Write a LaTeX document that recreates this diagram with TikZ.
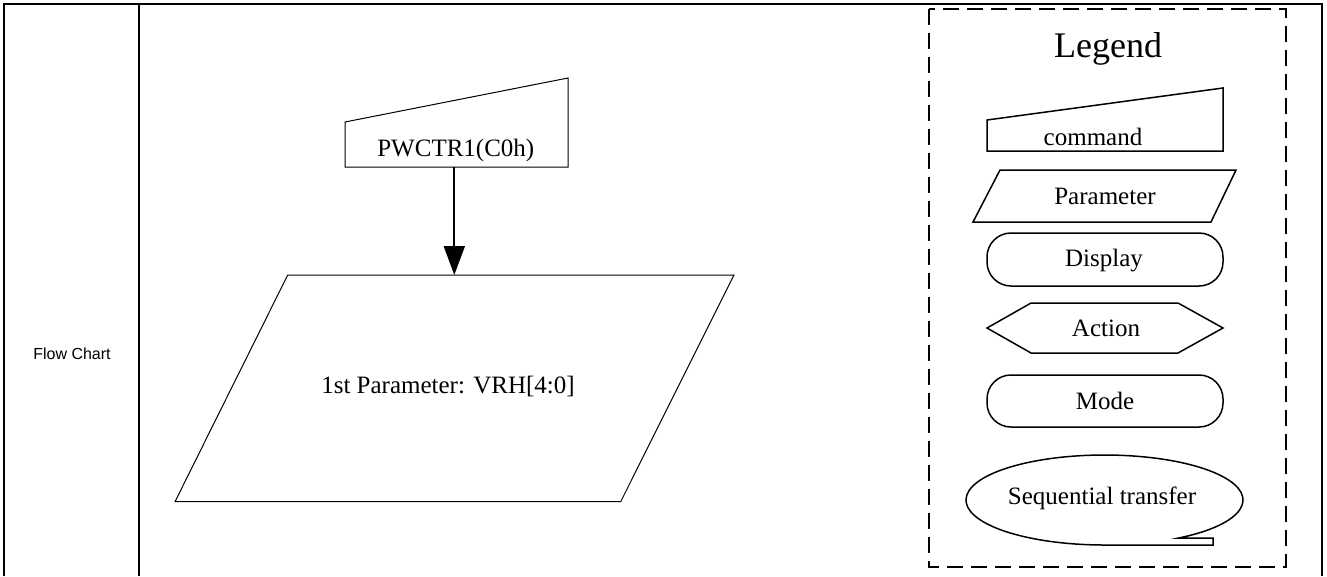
\documentclass[tikz,border=0pt]{standalone}
\usepackage{fontspec}
\setmainfont{Liberation Serif}
\newfontfamily\arialfont{Liberation Sans}
\usetikzlibrary{arrows.meta}
\tikzset{
  frame/.style={line width=2pt},
  legendbox/.style={line width=2.6pt, dash pattern=on 16pt off 8pt},
  mainshape/.style={line width=1pt},
  legshape/.style={line width=1.5pt},
  txt/.style={font=\fontsize{25}{30}\selectfont, anchor=base, inner sep=0pt},
  bigtxt/.style={font=\fontsize{36}{43}\selectfont, anchor=base, inner sep=0pt},
  sidetxt/.style={font=\arialfont\fontsize{16}{19}\selectfont, anchor=base, inner sep=0pt},
  flowarrow/.style={line width=2pt, -{Triangle[length=29pt,width=21pt]}},
}
\begin{document}
\begin{tikzpicture}[x=1pt,y=-1pt]
\useasboundingbox (0,0) rectangle (1327,576);
% outer table frame
\draw[frame] (4,576) -- (4,4) -- (1322,4) -- (1322,576);
\draw[frame] (139,4) -- (139,576);
\node[sidetxt] (label) at (72,359) {Flow Chart};

% main command shape
\draw[mainshape] (345,122) -- (568,78) -- (568,167) -- (345,167) -- cycle;
\node[txt] (cmdtext) at (455.8,156) {PWCTR1(C0h)};
\coordinate (cmdbottom) at (454.3,167);

% main parameter parallelogram
\draw[mainshape] (287.7,275) -- (734,275) -- (620.7,501.7) -- (175,501.7) -- cycle;
\node[txt] (partext) at (448,393) {1st Parameter: VRH[4:0]};
\coordinate (partop) at (454.3,275);

\draw[flowarrow] (cmdbottom) -- (partop);

% legend
\draw[legendbox] (929,9) rectangle (1286,567);
\node[bigtxt] (legend) at (1108,57) {Legend};

\draw[legshape] (987,120) -- (1223,88) -- (1223,151) -- (987,151) -- cycle;
\node[txt] (lcmd) at (1093,145) {command};

\draw[legshape] (1000,170) -- (1236,170) -- (1211,222) -- (973,222) -- cycle;
\node[txt] (lpar) at (1105,204) {Parameter};

\draw[legshape, rounded corners=24pt] (987,233) rectangle (1223,286);
\node[txt] (ldisp) at (1104,266.7) {Display};

\draw[legshape] (987,328) -- (1031,303) -- (1178,303) -- (1223,328) -- (1178,353) -- (1031,353) -- cycle;
\node[txt] (lact) at (1106,336) {Action};

\draw[legshape, rounded corners=24pt] (987,375) rectangle (1223,427);
\node[txt] (lmode) at (1105,409.3) {Mode};

\draw[legshape] (1104.5,545) -- (1213,545) -- (1213,538) -- (1178.7,538)
  arc[start angle=57.6, end angle=-270, x radius=138.5, y radius=45];
\node[txt] (lseq) at (1102,504) {Sequential transfer};
\end{tikzpicture}
\end{document}
